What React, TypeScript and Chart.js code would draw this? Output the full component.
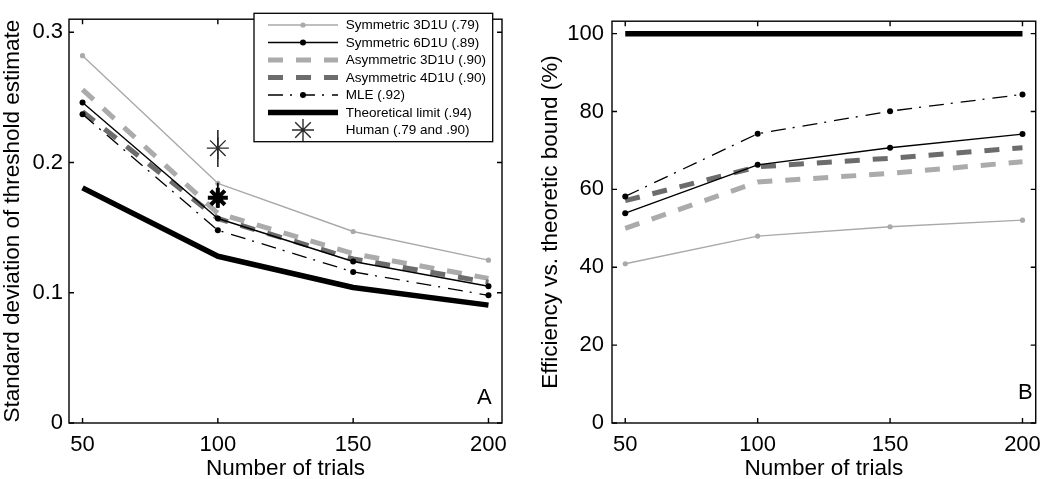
import React, { useEffect, useRef } from "react";
import { Chart, registerables } from "chart.js";

Chart.register(...registerables);

const FONT = "'Liberation Sans', Arial, Helvetica, sans-serif";

// ---------- data ----------
const trials = [50, 100, 150, 200];
const xTicks = [50, 100, 150, 200];
const sdTicks = [0, 0.1, 0.2, 0.3];
const effTicks = [0, 20, 40, 60, 80, 100];

const sdSym3 = [0.282, 0.184, 0.147, 0.125];
const sdSym6 = [0.246, 0.157, 0.124, 0.105];
const sdAsym3 = [0.256, 0.161, 0.13, 0.111];
const sdAsym4 = [0.239, 0.157, 0.126, 0.108];
const sdMLE = [0.237, 0.148, 0.116, 0.098];
const sdTheory = [0.1805, 0.128, 0.104, 0.0905];

const humanTrials = [100, 100];
const humanSD = [0.211, 0.173];
const humanLow = [0.1965, 0.165];
const humanHigh = [0.225, 0.1845];

const effSym3 = [40.9, 48.0, 50.4, 52.1];
const effSym6 = [53.9, 66.3, 70.7, 74.2];
const effAsym3 = [50.0, 61.9, 64.1, 67.1];
const effAsym4 = [57.1, 65.8, 68.0, 70.7];
const effMLE = [58.2, 74.3, 80.1, 84.4];
const effTheory = [100, 100, 100, 100];

const legendLabels = [
  "Symmetric 3D1U (.79)",
  "Symmetric 6D1U (.89)",
  "Asymmetric 3D1U (.90)",
  "Asymmetric 4D1U (.90)",
  "MLE (.92)",
  "Theoretical limit (.94)",
  "Human (.79 and .90)",
];

// ---------- styles ----------
type Sty = { color: string; width: number; dash: number[]; dot: number };
const styles: Sty[] = [
  { color: "#a9a9a9", width: 1.4, dash: [], dot: 2.6 },
  { color: "#000000", width: 1.4, dash: [], dot: 3 },
  { color: "#ababab", width: 5, dash: [15, 13], dot: 0 },
  { color: "#6c6c6c", width: 5, dash: [15, 13], dot: 0 },
  { color: "#000000", width: 1.3, dash: [15, 7, 2, 8], dot: 3 },
  { color: "#000000", width: 5.5, dash: [], dot: 0 },
];

const TICK_SIZE = 22;
const TITLE_SIZE = 22.5;

const pts = (xs: number[], ys: number[]) => xs.map((x, i) => ({ x, y: ys[i] }));

function lineDs(label: string, ys: number[], s: Sty) {
  return {
    label,
    data: pts(trials, ys),
    borderColor: s.color,
    backgroundColor: s.color,
    borderWidth: s.width,
    borderDash: s.dash,
    borderCapStyle: "butt",
    borderJoinStyle: "round",
    pointRadius: s.dot,
    pointBorderWidth: 0,
    pointBackgroundColor: s.color,
    pointHoverRadius: 0,
    tension: 0,
    fill: false,
  };
}

function drawStar(ctx: CanvasRenderingContext2D, x: number, y: number, r: number) {
  ctx.beginPath();
  for (let k = 0; k < 4; k++) {
    const a = (k * Math.PI) / 4;
    ctx.moveTo(x - r * Math.cos(a), y - r * Math.sin(a));
    ctx.lineTo(x + r * Math.cos(a), y + r * Math.sin(a));
  }
  ctx.stroke();
}

function drawLegend(ctx: CanvasRenderingContext2D) {
  const bx = 254, by = 13.3, bw = 238.7, bh = 128.4;
  ctx.save();
  ctx.fillStyle = "#fff";
  ctx.fillRect(bx, by, bw, bh);
  ctx.strokeStyle = "#000";
  ctx.lineWidth = 1.3;
  ctx.strokeRect(bx, by, bw, bh);
  const x0 = 268, x1 = 338, xm = 303;
  legendLabels.forEach((lab, i) => {
    const y = 25 + i * 17.5;
    if (i < styles.length) {
      const s = styles[i];
      ctx.strokeStyle = s.color;
      ctx.lineWidth = s.width;
      ctx.setLineDash(s.dash);
      ctx.lineCap = "butt";
      ctx.beginPath();
      ctx.moveTo(x0, y);
      ctx.lineTo(x1, y);
      ctx.stroke();
      ctx.setLineDash([]);
      if (s.dot > 0) {
        ctx.fillStyle = s.color;
        ctx.beginPath();
        ctx.arc(xm, y, s.dot, 0, Math.PI * 2);
        ctx.fill();
      }
    } else {
      ctx.strokeStyle = "#2a2a2a";
      ctx.lineWidth = 1.4;
      drawStar(ctx, xm, y, 11);
    }
    ctx.fillStyle = "#000";
    ctx.font = `13.5px ${FONT}`;
    ctx.textAlign = "left";
    ctx.textBaseline = "middle";
    ctx.fillText(lab, 345.7, y + 0.5);
  });
  ctx.restore();
}

const framePlugin = {
  id: "frame",
  afterDraw(chart: any, _args: any, opts: any) {
    const ctx: CanvasRenderingContext2D = chart.ctx;
    const { left, right, top, bottom } = chart.chartArea;
    const xs = chart.scales.x;
    const ys = chart.scales.y;
    ctx.save();
    ctx.strokeStyle = "#000";
    ctx.lineWidth = 1.4;
    ctx.setLineDash([]);
    ctx.strokeRect(left, top, right - left, bottom - top);
    const tl = 5;
    ctx.beginPath();
    xs.ticks.forEach((t: any) => {
      const px = xs.getPixelForValue(t.value);
      ctx.moveTo(px, bottom);
      ctx.lineTo(px, bottom - tl);
      ctx.moveTo(px, top);
      ctx.lineTo(px, top + tl);
    });
    ys.ticks.forEach((t: any) => {
      const py = ys.getPixelForValue(t.value);
      ctx.moveTo(left, py);
      ctx.lineTo(left + tl, py);
      ctx.moveTo(right, py);
      ctx.lineTo(right - tl, py);
    });
    ctx.stroke();
    // panel letter
    ctx.fillStyle = "#000";
    ctx.font = `22px ${FONT}`;
    ctx.textAlign = "right";
    ctx.textBaseline = "alphabetic";
    ctx.fillText(opts.panel, opts.panelX, opts.panelY);
    // y title, centred on the plot box
    ctx.save();
    ctx.translate(opts.yTitleX, (top + bottom) / 2);
    ctx.rotate(-Math.PI / 2);
    ctx.font = `${TITLE_SIZE}px ${FONT}`;
    ctx.textAlign = "center";
    ctx.textBaseline = "alphabetic";
    ctx.fillText(opts.yTitle, 0, 0);
    ctx.restore();
    if (opts.legend) drawLegend(ctx);
    ctx.restore();
  },
};

function makeConfig(
  datasets: any[],
  yMin: number,
  yMax: number,
  yTicksArr: number[],
  yWidth: number,
  yPad: number,
  padRight: number,
  frameOpts: any
): any {
  return {
    type: "line",
    data: { datasets },
    options: {
      responsive: false,
      animation: false,
      devicePixelRatio: 1,
      layout: { padding: { top: 1, right: padRight, left: 0, bottom: 0 } },
      plugins: {
        legend: { display: false },
        tooltip: { enabled: false },
        frame: frameOpts,
      },
      scales: {
        x: {
          type: "linear",
          min: 45,
          max: 205,
          afterBuildTicks: (s: any) => {
            s.ticks = xTicks.map((v) => ({ value: v }));
          },
          afterFit: (s: any) => {
            s.height = 56;
          },
          grid: { display: false, drawTicks: false },
          border: { display: false },
          ticks: {
            font: { size: TICK_SIZE, family: FONT },
            color: "#000",
            padding: 9,
            maxRotation: 0,
            autoSkip: false,
            callback: (v: any) => String(v),
          },
          title: {
            display: true,
            text: "Number of trials",
            color: "#000",
            font: { size: TITLE_SIZE, family: FONT, lineHeight: 1 },
            padding: { top: 0, bottom: -1 },
          },
        },
        y: {
          type: "linear",
          min: yMin,
          max: yMax,
          afterBuildTicks: (s: any) => {
            s.ticks = yTicksArr.map((v) => ({ value: v }));
          },
          afterFit: (s: any) => {
            s.width = yWidth;
          },
          grid: { display: false, drawTicks: false },
          border: { display: false },
          ticks: {
            font: { size: TICK_SIZE, family: FONT },
            color: "#000",
            padding: yPad,
            autoSkip: false,
            callback: (v: any) => String(v),
          },
        },
      },
    },
    plugins: [framePlugin],
  };
}

export default function App() {
  const leftRef = useRef<HTMLCanvasElement>(null);
  const rightRef = useRef<HTMLCanvasElement>(null);

  useEffect(() => {
    Chart.defaults.font.family = FONT;

    const humanThin = {
      label: "Human .79",
      data: [{ x: humanTrials[0], y: humanSD[0] }],
      pointStyle: "star",
      pointRadius: 11,
      pointBorderWidth: 1.4,
      pointBorderColor: "#2a2a2a",
      borderColor: "#2a2a2a",
      showLine: false,
    };
    const humanBold = {
      label: "Human .90",
      data: [{ x: humanTrials[1], y: humanSD[1] }],
      pointStyle: "star",
      pointRadius: 10,
      pointBorderWidth: 4,
      pointBorderColor: "#000",
      borderColor: "#000",
      showLine: false,
    };
    const errThin = {
      label: "err1",
      data: [
        { x: humanTrials[0], y: humanLow[0] },
        { x: humanTrials[0], y: humanHigh[0] },
      ],
      borderColor: "#2a2a2a",
      borderWidth: 1.6,
      pointRadius: 0,
    };
    const errBold = {
      label: "err2",
      data: [
        { x: humanTrials[1], y: humanLow[1] },
        { x: humanTrials[1], y: humanHigh[1] },
      ],
      borderColor: "#000",
      borderWidth: 1.8,
      pointRadius: 0,
    };

    const leftSets = [
      humanBold,
      humanThin,
      errBold,
      errThin,
      lineDs(legendLabels[4], sdMLE, styles[4]),
      lineDs(legendLabels[1], sdSym6, styles[1]),
      lineDs(legendLabels[0], sdSym3, styles[0]),
      lineDs(legendLabels[3], sdAsym4, styles[3]),
      lineDs(legendLabels[2], sdAsym3, styles[2]),
      lineDs(legendLabels[5], sdTheory, styles[5]),
    ];
    const rightSets = [
      lineDs(legendLabels[4], effMLE, styles[4]),
      lineDs(legendLabels[1], effSym6, styles[1]),
      lineDs(legendLabels[0], effSym3, styles[0]),
      lineDs(legendLabels[3], effAsym4, styles[3]),
      lineDs(legendLabels[2], effAsym3, styles[2]),
      lineDs(legendLabels[5], effTheory, styles[5]),
    ];

    const c1 = new Chart(
      leftRef.current!,
      makeConfig(leftSets, 0, 0.31, sdTicks, 69, 6, 23, {
        panel: "A",
        panelX: 491.7,
        panelY: 404.3,
        yTitle: "Standard deviation of threshold estimate",
        yTitleX: 19,
        legend: true,
      })
    );
    const c2 = new Chart(
      rightRef.current!,
      makeConfig(rightSets, 0, 103.2, effTicks, 87, 8, 5, {
        panel: "B",
        panelX: 507.7,
        panelY: 399.3,
        yTitle: "Efficiency vs. theoretic bound (%)",
        yTitleX: 32,
        legend: false,
      })
    );
    return () => {
      c1.destroy();
      c2.destroy();
    };
  }, []);

  return (
    <div
      style={{
        position: "absolute",
        left: 0,
        top: 0,
        width: 1050,
        height: 479,
        background: "#fff",
        overflow: "hidden",
      }}
    >
      <canvas
        ref={leftRef}
        width={525}
        height={479}
        style={{ position: "absolute", left: 0, top: 0, width: 525, height: 479 }}
      />
      <canvas
        ref={rightRef}
        width={525}
        height={479}
        style={{ position: "absolute", left: 525, top: 0, width: 525, height: 479 }}
      />
    </div>
  );
}
